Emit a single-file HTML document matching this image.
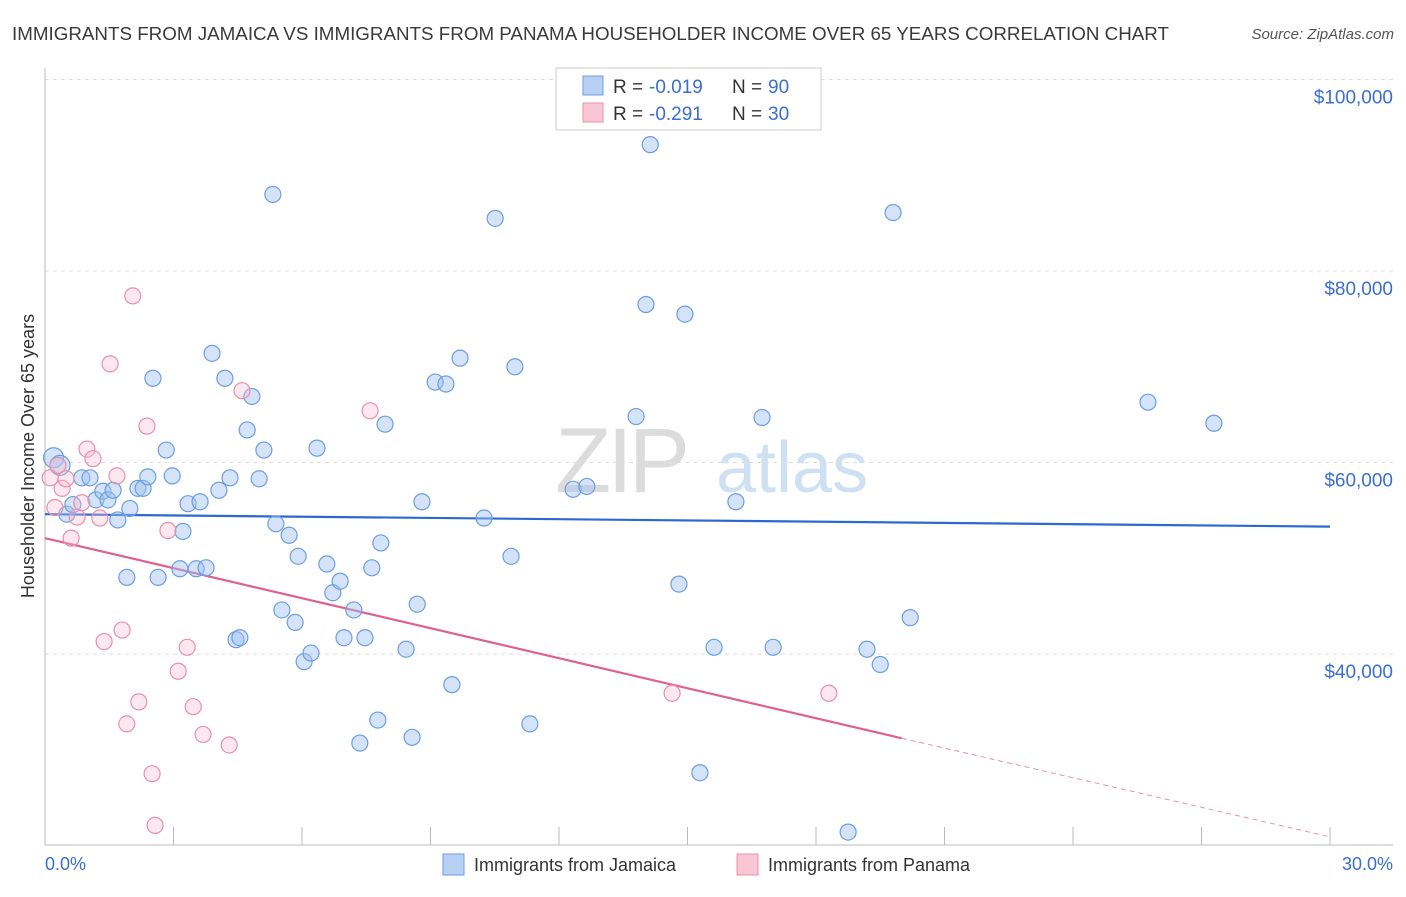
<!DOCTYPE html>
<html><head><meta charset="utf-8"><style>
body{margin:0;background:#fff;font-family:"Liberation Sans",sans-serif;}
svg text{font-family:"Liberation Sans",sans-serif;}
</style></head><body>
<svg id="chart" width="1406" height="892" viewBox="0 0 1406 892" xmlns="http://www.w3.org/2000/svg">
<text x="12" y="40" font-size="18" fill="#3a3a3a" textLength="1157" lengthAdjust="spacingAndGlyphs">IMMIGRANTS FROM JAMAICA VS IMMIGRANTS FROM PANAMA HOUSEHOLDER INCOME OVER 65 YEARS CORRELATION CHART</text>
<text x="1394" y="39" font-size="15" fill="#555" text-anchor="end" font-style="italic">Source: ZipAtlas.com</text>
<g>
<text x="555" y="492" font-size="92" fill="#dcdcdc" font-family="Liberation Serif" letter-spacing="-4">ZIP</text>
<text x="716" y="492" font-size="72" fill="#cfe0f3">atlas</text>
</g>
<g id="grid"></g>
<g id="axes"></g>
<g id="trends"></g>
<g id="points"></g>
<text transform="translate(34,456) rotate(-90)" font-size="18" fill="#333" text-anchor="middle">Householder Income Over 65 years</text>
<g>
<rect x="556" y="68" width="265" height="62" fill="#fff" stroke="#ccc"/>
<rect x="583" y="76" width="20" height="19" fill="#b8d0f3" stroke="#6b9ee0"/>
<rect x="583" y="103" width="20" height="19" fill="#f8c6d4" stroke="#e890ab"/>
<text x="613" y="93" font-size="19" fill="#333">R =</text>
<text x="649" y="93" font-size="19" fill="#3a6fd0">-0.019</text>
<text x="732" y="93" font-size="19" fill="#333">N =</text>
<text x="768" y="93" font-size="19" fill="#3a6fd0">90</text>
<text x="613" y="120" font-size="19" fill="#333">R =</text>
<text x="649" y="120" font-size="19" fill="#3a6fd0">-0.291</text>
<text x="732" y="120" font-size="19" fill="#333">N =</text>
<text x="768" y="120" font-size="19" fill="#3a6fd0">30</text>
</g>
<g>
<rect x="443" y="854" width="21" height="21" fill="#b8d0f3" stroke="#6b9ee0"/>
<text x="474" y="871" font-size="18" fill="#333">Immigrants from Jamaica</text>
<rect x="737" y="854" width="21" height="21" fill="#f8c6d4" stroke="#e890ab"/>
<text x="768" y="871" font-size="18" fill="#333">Immigrants from Panama</text>
</g>
</svg>
<script>
const yTicks=[40000,60000,80000,100000];
const yTickLabels=["$40,000","$60,000","$80,000","$100,000"];
const xTickVals=[0,3,6,9,12,15,18,21,24,27,30];
const xEndLabels=["0.0%","30.0%"];
const jamX=[0.2,0.35,0.51,0.65,0.86,1.05,1.19,1.35,1.47,1.59,1.70,1.91,1.98,2.17,2.29,2.40,2.52,2.64,2.83,2.97,3.15,3.22,3.34,3.53,3.62,3.76,3.90,4.06,4.20,4.32,4.46,4.55,4.72,4.83,5.00,5.11,5.32,5.39,5.53,5.70,5.84,5.91,6.05,6.21,6.35,6.58,6.72,6.89,6.98,7.21,7.35,7.47,7.63,7.77,7.84,7.94,8.43,8.57,8.69,8.80,9.11,9.36,9.50,9.69,10.25,10.51,10.88,10.97,11.32,12.33,12.65,13.80,14.03,14.13,14.80,14.94,15.29,15.62,16.13,16.74,17.00,18.75,19.19,19.50,19.80,20.20,25.75,27.29];
const jamY=[60500,59700,54600,55600,58400,58400,56100,57000,56100,57100,54000,48000,55200,57300,57300,58500,68800,48000,61300,58600,48900,52800,55700,48900,55900,49000,71400,57100,68800,58400,41500,41700,63400,66900,58300,61300,88000,53600,44600,52400,43300,50200,39200,40100,61500,49400,46400,47600,41700,44600,30700,41700,49000,33100,51600,64000,40500,31300,45200,55900,68400,68200,36800,70900,54200,85500,50200,70000,32700,57200,57500,64800,76500,93200,47300,75500,27600,40700,55900,64700,40700,21400,40500,38900,86100,43800,66300,64100];
const panX=[0.12,0.23,0.30,0.40,0.49,0.61,0.75,0.86,0.98,1.12,1.28,1.38,1.52,1.68,1.80,1.91,2.05,2.19,2.38,2.50,2.57,2.87,3.11,3.32,3.46,3.69,4.30,4.60,7.59,14.64,18.30];
const panY=[58400,55300,59700,57300,58300,52100,54300,55800,61400,60400,54200,41300,70300,58600,42500,32700,77400,35000,63800,27500,22100,52900,38200,40700,34500,31600,30500,67500,65400,35900,35900];
const jamTrendX=[0,30];
const jamTrendY=[54600,53300];
const panTrendX=[0,20,30];
const panTrendY=[52100,31200,20900];

const NS="http://www.w3.org/2000/svg";
const X0=45,X1=1330,Y40=654,PXPER20K=191.5;
const sx=v=>X0+(v/30)*(X1-X0);
const sy=v=>Y40-(v-40000)*PXPER20K/20000;
function mk(tag,attrs,parent){const e=document.createElementNS(NS,tag);for(const k in attrs)e.setAttribute(k,attrs[k]);parent.appendChild(e);return e;}
const grid=document.getElementById('grid'),axes=document.getElementById('axes'),trends=document.getElementById('trends'),pts=document.getElementById('points');
yTicks.forEach((t,i)=>{
 const l=mk('line',{x1:X0,x2:1393,y1:sy(t),y2:sy(t),stroke:'#ddd','stroke-dasharray':'4,4'},grid);
 
 
 const tx=mk('text',{x:1393,y:sy(t)+24,'font-size':19,fill:'#3a6fd0','text-anchor':'end'},axes);
 tx.textContent=yTickLabels[i];
 
 
});
const ax=mk('line',{x1:X0,x2:X0,y1:68,y2:845,stroke:'#bbb'},axes);


const bx=mk('line',{x1:X0,x2:1393,y1:845,y2:845,stroke:'#bbb'},axes);


xTickVals.forEach(t=>{
 const l=mk('line',{x1:sx(t),x2:sx(t),y1:827,y2:845,stroke:'#bbb'},axes);
 
 
});
const xl0=mk('text',{x:45,y:870,'font-size':18,fill:'#3a6fd0'},axes);xl0.textContent=xEndLabels[0];


const xl1=mk('text',{x:1393,y:870,'font-size':18,fill:'#3a6fd0','text-anchor':'end'},axes);xl1.textContent=xEndLabels[1];



jamX.forEach((x,i)=>{
 const c=mk('circle',{cx:sx(x),cy:sy(jamY[i]),r:i<2?10:8,fill:'rgba(160,192,240,0.45)',stroke:'#6b9ee0','stroke-width':1.2},pts);
 
 
});
panX.forEach((x,i)=>{
 const c=mk('circle',{cx:sx(x),cy:sy(panY[i]),r:8,fill:'rgba(248,190,208,0.35)',stroke:'#e890ab','stroke-width':1.2},pts);
 
 
});
const jt=mk('line',{x1:sx(jamTrendX[0]),y1:sy(jamTrendY[0]),x2:sx(jamTrendX[1]),y2:sy(jamTrendY[1]),stroke:'#2a6ad0','stroke-width':2.2},trends);


const pt=mk('line',{x1:sx(panTrendX[0]),y1:sy(panTrendY[0]),x2:sx(panTrendX[1]),y2:sy(panTrendY[1]),stroke:'#e06090','stroke-width':2.2},trends);


const pd=mk('line',{x1:sx(panTrendX[1]),y1:sy(panTrendY[1]),x2:sx(panTrendX[2]),y2:sy(panTrendY[2]),stroke:'#e890ab','stroke-width':1,'stroke-dasharray':'5,4'},trends);


</script>
</body></html>
